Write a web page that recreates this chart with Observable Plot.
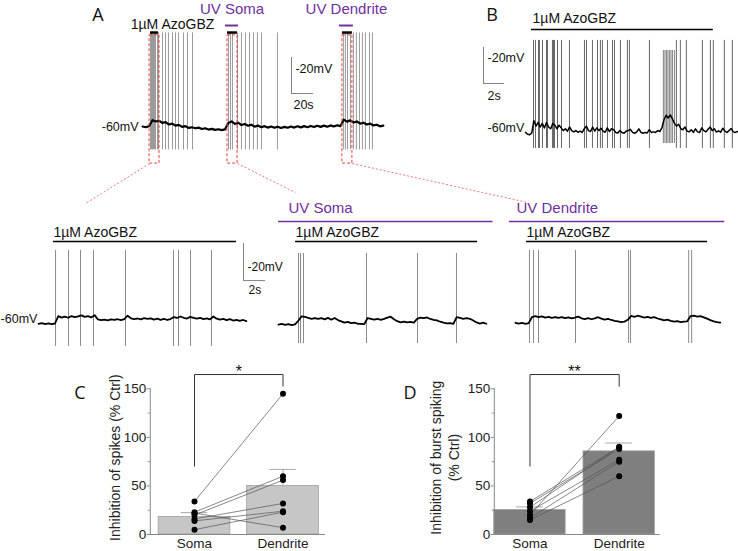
<!DOCTYPE html>
<html><head><meta charset="utf-8">
<script src="https://cdn.jsdelivr.net/npm/d3@7"></script>
<script src="https://cdn.jsdelivr.net/npm/@observablehq/plot@0.6"></script>
<style>
html,body{margin:0;padding:0;background:#fff;}
#fig{position:relative;width:738px;height:551px;overflow:hidden;font-family:'Liberation Sans',Arial,sans-serif;}
.lab{position:absolute;font-family:'Open Sans',sans-serif;font-size:18px;color:#111;transform:translate(-50%,-50%);line-height:1;}
</style></head><body><div id="fig"></div>
<script>
const FONT = "'Liberation Sans', Arial, Helvetica, sans-serif";
const PURPLE = "#7030a0";
const DRUG = "1\u00b5M AzoGBZ";

// ---- bar chart data (panels C, D)
const groups = ["Soma", "Dendrite"];
const spikeSoma = [34, 23, 20, 22, 16, 14, 5];
const spikeDend = [145, 60, 56, 7, 32, 24, 23];
const spikeMean = [18, 50];
const spikeSem = [4.5, 17];
const burstSoma = [20, 34, 28, 32, 24, 17, 15];
const burstDend = [122, 90, 90, 88, 77, 75, 60];
const burstMean = [25.3, 85.6];
const burstSem = [3.1, 8.6];
const yTicks = [0, 50, 100, 150];
const yMinor = [25, 75, 125];

// ---- panel A (overview trace, seconds / mV)
const aStep = 3;
const aVolts = [-60.0,-60.4,-59.8,-56.5,-57.2,-56.8,-58.0,-57.6,-58.9,-58.4,-59.5,-59.1,-60.2,-59.8,-60.8,-60.4,-61.0,-60.6,-61.4,-61.0,-61.7,-61.3,-61.9,-61.5,-62.0,-61.6,-58.0,-57.2,-58.6,-57.9,-59.2,-58.6,-59.6,-59.0,-60.1,-59.5,-60.4,-59.8,-60.6,-60.0,-60.7,-60.1,-60.8,-60.2,-60.7,-60.0,-60.6,-59.9,-60.5,-59.8,-60.4,-59.7,-60.3,-59.6,-60.2,-59.5,-60.1,-59.4,-60.0,-59.3,-59.8,-56.2,-57.3,-56.6,-57.8,-57.2,-58.4,-57.9,-58.9,-58.4,-59.4,-59.0,-59.9,-59.5];
const aSpikes = [7.3,8.2,9.1,10.0,10.9,11.8,13.6,14.5,18.2,20.9,23.6,27.3,30.0,32.7,37.3,40.9,45.5,
  78.2,80.0,81.8,86.4,90.0,93.6,97.3,100.9,104.5,108.2,122.7,
  182.7,184.5,186.4,189.1,191.8,194.5,197.3,200.0,202.7,206.4,209.1];
const aDrug = [[7.3,14.5],[77.3,86.4],[181.8,190.9]];
const aUV = [[75.5,87.3,"UV Soma"],[179.1,191.8,"UV Dendrite"]];
const aZoom = [[6.4,15.5],[77.3,86.4],[181.8,190.9]];

// ---- panel B
const bStep = 0.2;
const bVolts = [-60.5,-61.5,-61.8,-60.8,-54,-57,-55,-57.5,-55.5,-58,-55,-57.5,-58.5,-55.5,-56.5,-58.5,-56.5,-58,-59.5,-58.5,-59.8,-57.5,-59.5,-60.2,-59.5,-60.4,-59.8,-60.5,-58.5,-57,-59.5,-60,-57.5,-59.8,-58,-59.5,-58.2,-59.8,-60.4,-58,-60,-58.5,-59,-60.5,-60.8,-59.5,-60.6,-61,-59.8,-59.5,-58.8,-60.5,-61,-60.2,-58.5,-60.5,-61,-60.5,-60.8,-59,-60.5,-60.2,-60.5,-59.5,-60,-58,-53.5,-51,-52.5,-50.8,-53,-55.5,-57,-56,-58.5,-59,-57.5,-59.8,-60.2,-59,-60.5,-58.5,-60.2,-60.5,-58,-59.5,-60.2,-58.8,-57.5,-59.5,-58.5,-60.3,-59.6,-60.4,-58.2,-59.8,-60.5,-59.5,-58.3,-60.2,-60.5,-60.0];
const bSpikes = [0.76,0.95,1.24,1.33,1.62,2.0,2.1,2.57,2.67,2.76,3.05,3.43,4.19,5.62,5.81,6.38,6.86,7.14,7.33,7.81,8.29,8.48,9.05,9.71,9.9,11.81,14.38,14.76,15.33,16.86,17.62,17.9,18.95,19.71];
const bBurst = [13.14,13.29,13.43,13.57,13.71,13.86,14.0,14.19];

// ---- bottom traces (0.3 s samples)
const tStep = 0.3;
const c1Volts = [-60.2,-59.8,-60.3,-59.9,-60.4,-60.0,-56.0,-56.8,-56.3,-56.9,-56.0,-56.6,-56.2,-55.6,-56.4,-56.0,-56.7,-55.5,-57.8,-58.2,-57.9,-58.3,-57.8,-58.1,-57.7,-58.2,-57.6,-55.8,-57.2,-57.6,-57.3,-57.8,-57.1,-57.5,-57.2,-57.9,-57.4,-58.0,-57.5,-58.1,-57.6,-56.5,-57.0,-56.2,-56.9,-57.3,-56.4,-56.9,-57.4,-57.0,-57.6,-57.2,-57.8,-56.2,-57.4,-57.9,-57.5,-58.2,-57.6,-58.4,-58.0,-58.6,-58.1,-58.7];
const c1Spikes = [1.55,2.73,3.82,5.0,7.91,12.27,12.73,13.82,15.73];
const c2Volts = [-60.1,-59.7,-60.2,-59.8,-60.3,-59.9,-58.0,-55.6,-55.9,-56.4,-56.9,-56.5,-57.0,-56.6,-57.2,-56.4,-57.4,-56.5,-57.6,-58.3,-59.0,-58.6,-59.3,-59.0,-59.6,-59.7,-59.8,-56.5,-56.9,-57.4,-56.9,-57.5,-57.0,-56.3,-55.8,-57.2,-58.2,-58.8,-58.4,-58.9,-58.6,-59.0,-57.0,-56.3,-56.6,-56.2,-57.0,-57.5,-57.8,-58.5,-59.0,-59.4,-59.2,-59.6,-56.0,-56.4,-57.0,-56.5,-56.9,-57.8,-58.9,-59.5,-59.0,-59.6];
const c2Spikes = [1.82,2.0,2.27,8.0,12.64,16.18];
const c3Volts = [-59.6,-60.1,-59.7,-60.2,-59.8,-56.5,-56.0,-56.6,-56.2,-56.8,-56.4,-56.9,-56.5,-57.0,-56.6,-57.1,-56.7,-57.2,-56.8,-56.3,-57.2,-57.6,-57.1,-57.7,-57.2,-56.6,-57.4,-57.9,-57.5,-58.1,-58.6,-58.9,-59.2,-59.0,-58.0,-55.9,-56.4,-55.8,-56.3,-56.8,-56.4,-57.0,-56.6,-57.3,-57.8,-58.3,-57.9,-58.6,-59.0,-58.7,-59.2,-59.0,-58.8,-56.0,-55.8,-56.3,-56.0,-56.7,-57.4,-58.2,-58.8,-59.2,-59.5];
const c3Spikes = [1.27,1.64,2.09,5.45,10.27,10.45,15.73,16.0];

const fig = document.getElementById("fig");
const series = (vals, step) => vals.map((v, i) => ({t: i * step, v}));
const txt = (s, x, y, o = {}) => Plot.text([s], {x, y, text: d => d, fontSize: 14, textAnchor: "start", fill: "#111", ...o});

function overlay(xd, xr, yd, yr, marks) {
  const p = Plot.plot({
    width: 738, height: 551, margin: 0,
    x: {domain: xd, range: xr, axis: null},
    y: {domain: yd, range: yr, axis: null},
    style: {position: "absolute", left: "0px", top: "0px", background: "transparent", overflow: "visible", fontFamily: FONT},
    marks
  });
  fig.appendChild(p);
  return p;
}
function trace(volts, step, spikes, top, bottom, color, width) {
  return [
    Plot.ruleX(spikes, {x: d => d, y1: bottom, y2: top, stroke: color, strokeWidth: 1}),
    Plot.line(series(volts, step), {x: "t", y: "v", stroke: "#000", strokeWidth: width})
  ];
}

// Panel A
overlay([0, 221], [142, 385], [-80, 0], [162, 18], [
  ...trace(aVolts, aStep, aSpikes, -8, -73, "#9a9a9a", 2.2),
  Plot.rect(aZoom, {x1: d => d[0], x2: d => d[1], y1: -80.6, y2: -9.4, fill: "none", stroke: "#e8413c", strokeDasharray: "3,2", strokeWidth: 1}),
  Plot.link([[aZoom[0][0], -51.8, -102.8], [aZoom[1][1], 139.1, -96.7], [aZoom[2][1], 350, -102.2]],
    {x1: d => d[0], y1: -80.6, x2: d => d[1], y2: d => d[2], stroke: "#f07a7a", strokeDasharray: "2,2", strokeWidth: 1}),
  Plot.ruleY(aDrug, {y: -7.8, x1: d => d[0], x2: d => d[1], stroke: "#000", strokeWidth: 2.5}),
  Plot.ruleY(aUV, {y: -3.9, x1: d => d[0], x2: d => d[1], stroke: PURPLE, strokeWidth: 2}),
  Plot.text(aUV, {x: d => (d[0] + d[1]) / 2, y: 5.2, text: d => d[2], fill: PURPLE, fontSize: 15}),
  txt(DRUG, 27.3, -3.3, {textAnchor: "middle"}),
  Plot.ruleX([135.5], {y1: -41.7, y2: -21.7, stroke: "#808080"}),
  Plot.ruleY([-41.7], {x1: 135.5, x2: 155.5, stroke: "#808080"}),
  txt("-20mV", 139.1, -28.3, {fontSize: 12.5}),
  txt("20s", 137.3, -48.3, {fontSize: 12.5}),
  txt("-60mV", -3.6, -60, {fontSize: 12.5, textAnchor: "end"})
]);

// Panel B
overlay([0, 20.3], [525, 738], [-80, 0], [167, 23], [
  Plot.ruleX(bSpikes, {x: d => d, y1: -69.4, y2: -9.4, stroke: "#666", strokeWidth: 1}),
  Plot.ruleX(bBurst, {x: d => d, y1: -66.7, y2: -15, stroke: "#444", strokeWidth: 0.8, strokeOpacity: 0.85}),
  Plot.line(series(bVolts, bStep), {x: "t", y: "v", stroke: "#000", strokeWidth: 1.5}),
  Plot.ruleY([[0.57, 17.9]], {y: -3.3, x1: d => d[0], x2: d => d[1], stroke: "#000", strokeWidth: 1.6}),
  txt(DRUG, 0.67, 2.8),
  Plot.ruleX([-4], {y1: -33.3, y2: -13.3, stroke: "#808080"}),
  Plot.ruleY([-33.3], {x1: -4, x2: -2, stroke: "#808080"}),
  txt("-20mV", -3.62, -19.4, {fontSize: 12.5}),
  txt("2s", -3.62, -40, {fontSize: 12.5}),
  txt("-60mV", -3.62, -58.3, {fontSize: 12.5})
]);

// Bottom trace 1 (drug)
overlay([0, 19], [38, 247], [-80, 0], [360, 212], [
  ...trace(c1Volts, tStep, c1Spikes, -20.5, -72.4, "#8a8a8a", 1.8),
  Plot.ruleY([[1.36, 18.0]], {y: -15.7, x1: d => d[0], x2: d => d[1], stroke: "#000", strokeWidth: 1.6}),
  txt(DRUG, 1.36, -10.8),
  Plot.ruleX([18.64], {y1: -36.8, y2: -16.8, stroke: "#808080"}),
  Plot.ruleY([-36.8], {x1: 18.64, x2: 20.64, stroke: "#808080"}),
  txt("-20mV", 19.0, -29.7, {fontSize: 12}),
  txt("2s", 19.09, -42.2, {fontSize: 12}),
  txt("-60mV", -0.1, -57.3, {fontSize: 12.5, textAnchor: "end"})
]);

// Bottom trace 2 (UV soma)
overlay([0, 19], [278, 487], [-80, 0], [361, 213], [
  ...trace(c2Volts, tStep, c2Spikes, -21.6, -70.3, "#8a8a8a", 1.8),
  Plot.ruleY([[0, 19.5]], {y: -4.3, x1: d => d[0], x2: d => d[1], stroke: PURPLE, strokeWidth: 1.6}),
  txt("UV Soma", 0.91, 2.7, {fill: PURPLE, fontSize: 15}),
  Plot.ruleY([[1.55, 18.1]], {y: -15.1, x1: d => d[0], x2: d => d[1], stroke: "#000", strokeWidth: 1.6}),
  txt(DRUG, 1.55, -10.3)
]);

// Bottom trace 3 (UV dendrite)
overlay([0, 18.8], [515, 722], [-80, 0], [360, 212], [
  ...trace(c3Volts, tStep, c3Spikes, -20.5, -70.8, "#8a8a8a", 1.8),
  Plot.ruleY([[-0.55, 19.0]], {y: -4.9, x1: d => d[0], x2: d => d[1], stroke: PURPLE, strokeWidth: 1.6}),
  txt("UV Dendrite", 0.09, 2.2, {fill: PURPLE, fontSize: 15}),
  Plot.ruleY([[1.0, 17.45]], {y: -15.7, x1: d => d[0], x2: d => d[1], stroke: "#000", strokeWidth: 1.6}),
  txt(DRUG, 1.0, -10.8)
]);

// Bar panels
function barPanel(o) {
  const rows = groups.map((g, i) => ({i, mean: o.mean[i], top: o.mean[i] + o.sem[i]}));
  const pairs = o.soma.map((s, k) => ({s, d: o.dend[k]}));
  const pts = [...o.soma.map(v => ({i: 0, v})), ...o.dend.map(v => ({i: 1, v}))];
  const bracket = [{i: 0, v: 70.5}, {i: 0, v: 164.7}, {i: 1, v: 164.7}, {i: 1, v: 152.7}];
  const p = Plot.plot({
    width: o.width, height: 201,
    marginLeft: o.ml, marginRight: o.mr, marginTop: 38.3, marginBottom: 17,
    x: {domain: o.xd}, y: {domain: [0, 150]},
    style: {position: "absolute", left: o.left + "px", top: "350px", background: "transparent", overflow: "visible", fontFamily: FONT, color: "#222"},
    marks: [
      Plot.rect(rows, {x1: d => d.i - o.hw, x2: d => d.i + o.hw, y1: 0, y2: "mean", fill: o.fill, stroke: "#a0a0a0", strokeWidth: 0.8}),
      Plot.ruleX(rows, {x: "i", y1: "mean", y2: "top", stroke: "#a8a8a8"}),
      Plot.ruleY(rows, {y: "top", x1: d => d.i - 0.15, x2: d => d.i + 0.15, stroke: "#a8a8a8"}),
      Plot.link(pairs, {x1: 0, x2: 1, y1: "s", y2: "d", stroke: "#555", strokeWidth: 0.7}),
      Plot.dot(pts, {x: "i", y: "v", r: 3, fill: "#000", stroke: null}),
      Plot.line(bracket, {x: "i", y: "v", stroke: "#333", strokeWidth: 1}),
      Plot.text([o.sig], {x: 0.5, y: 167, text: d => d, fontSize: 16, fill: "#111"}),
      Plot.ruleX([o.xd[0]], {y1: 0, y2: 150, stroke: "#888"}),
      Plot.ruleY([0], {x1: o.xd[0] - 0.02, x2: o.xEnd, stroke: "#888"}),
      Plot.axisY(yTicks, {tickSize: 3, tickPadding: 1, fontSize: 13.5, stroke: "#888", fill: "#222", label: null}),
      Plot.axisY(yMinor, {tickSize: 2, tickFormat: () => "", stroke: "#888", label: null}),
      Plot.axisX([0, 1], {tickSize: 0, tickPadding: 4, tickFormat: i => groups[i], fontSize: 13.5, fill: "#222", label: null}),
      Plot.text([o.title], {frameAnchor: "left", textAnchor: "middle", lineAnchor: "middle", rotate: -90, dx: o.titleDx, dy: -4, fontSize: 14, lineHeight: 1.3, fill: "#222", text: d => d})
    ]
  });
  fig.appendChild(p);
}
barPanel({left: 60, width: 280, ml: 89.75, mr: 13.25, xd: [-0.5, 1.5], xEnd: 1.48, hw: 0.405,
  soma: spikeSoma, dend: spikeDend, mean: spikeMean, sem: spikeSem, fill: "#c6c6c6",
  sig: "*", title: "Inhibition of spikes (% Ctrl)", titleDx: -36.5});
barPanel({left: 400, width: 290, ml: 93.8, mr: 17.8, xd: [-0.4, 1.6], xEnd: 1.46, hw: 0.4,
  soma: burstSoma, dend: burstDend, mean: burstMean, sem: burstSem, fill: "#7f7f7f",
  sig: "**", title: "Inhibition of burst spiking\n(% Ctrl)", titleDx: -49.8});

// panel letters
for (const [l, x, y] of [["A", 98, 14], ["B", 492, 14], ["C", 80, 392], ["D", 410, 392]]) {
  const d = document.createElement("div");
  d.className = "lab"; d.textContent = l;
  d.style.left = x + "px"; d.style.top = y + "px";
  fig.appendChild(d);
}
</script></body></html>
